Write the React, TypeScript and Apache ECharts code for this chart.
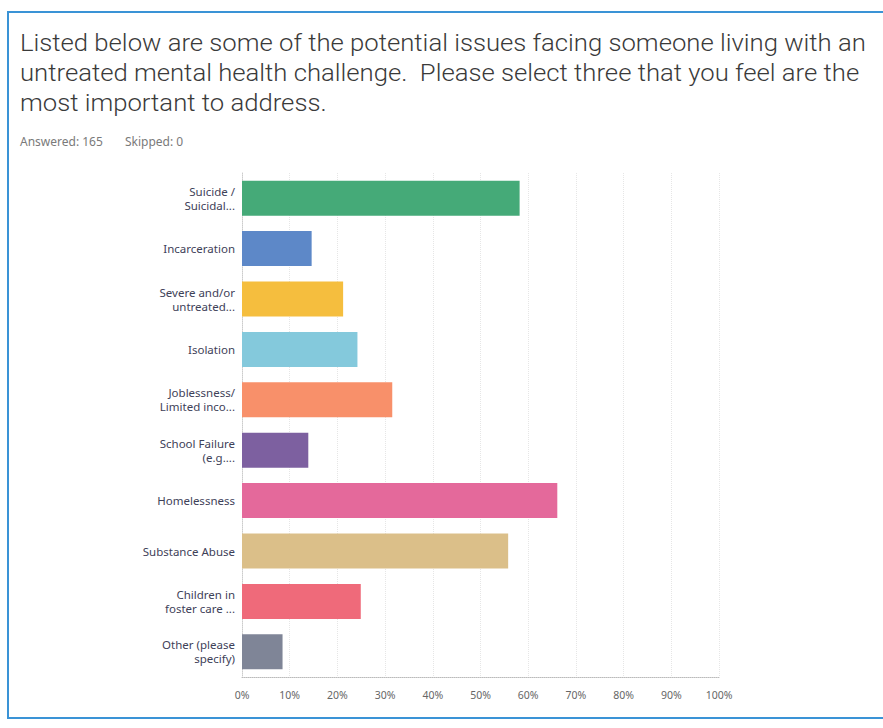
import React, { useEffect, useRef } from "react";
import * as echarts from "echarts";

const categories = [
  "Suicide /\nSuicidal...",
  "Incarceration",
  "Severe and/or\nuntreated...",
  "Isolation",
  "Joblessness/\nLimited inco...",
  "School Failure\n(e.g....",
  "Homelessness",
  "Substance Abuse",
  "Children in\nfoster care ...",
  "Other (please\nspecify)",
];
const values = [58.2, 14.6, 21.2, 24.2, 31.5, 13.9, 66.1, 55.8, 24.9, 8.5];
const colors = [
  "#45aa78",
  "#5d88c8",
  "#f5be3e",
  "#84c9dc",
  "#f8906a",
  "#7d60a0",
  "#e4699b",
  "#dbbf89",
  "#ef6a7a",
  "#7f8597",
];
const tickLabels = ["0%", "10%", "20%", "30%", "40%", "50%", "60%", "70%", "80%", "90%", "100%"];
const titleText =
  "Listed below are some of the potential issues facing someone living with an\nuntreated mental health challenge.  Please select three that you feel are the\nmost important to address.";
const answeredText = "Answered: 165";
const skippedText = "Skipped: 0";

export default function App() {
  const ref = useRef<HTMLDivElement>(null);
  useEffect(() => {
    if (!ref.current) return;
    const chart = echarts.init(ref.current, null, { renderer: "svg" });
    chart.setOption({
      animation: false,
      backgroundColor: "#ffffff",
      graphic: [
        {
          type: "polyline",
          shape: { points: [[883, 12], [8, 12], [8, 718], [883, 718]] },
          style: { fill: "none", stroke: "#3a93d6", lineWidth: 2 },
        },
        {
          type: "text",
          x: 20,
          y: 28,
          scaleX: 1.07,
          style: {
            text: titleText,
            font: "300 24px Roboto, 'Open Sans', sans-serif",
            fill: "#3a3a3a",
            lineHeight: 30,
          },
        },
        {
          type: "text",
          left: 20,
          top: 135,
          style: { text: answeredText, font: "12px 'Noto Sans', sans-serif", fill: "#7a7a7a" },
        },
        {
          type: "text",
          left: 125,
          top: 135,
          style: { text: skippedText, font: "12px 'Noto Sans', sans-serif", fill: "#7a7a7a" },
        },
      ],
      grid: { left: 242, right: 164, top: 173, bottom: 51, containLabel: false },
      xAxis: {
        type: "value",
        min: 0,
        max: 100,
        interval: 10,
        axisLine: { show: true, lineStyle: { color: "#bbbbbb", type: "dotted" } },
        axisTick: { show: false },
        splitLine: { show: true, lineStyle: { color: "#e6e6e6", type: "dotted" } },
        axisLabel: {
          formatter: (v: number) => tickLabels[Math.round(v / 10)],
          color: "#666666",
          fontSize: 10.5,
          fontFamily: "'Noto Sans', sans-serif",
          margin: 12,
        },
      },
      yAxis: {
        type: "category",
        inverse: true,
        data: categories,
        axisLine: { show: true, lineStyle: { color: "#cccccc", type: "dotted" } },
        axisTick: { show: false },
        axisLabel: {
          color: "#3e4158",
          fontSize: 11.5,
          fontFamily: "'Noto Sans', sans-serif",
          lineHeight: 14,
          margin: 7,
          align: "right",
        },
      },
      series: [
        {
          type: "bar",
          barWidth: 35,
          data: values.map((v, i) => ({ value: v, itemStyle: { color: colors[i] } })),
        },
      ],
    });
    return () => chart.dispose();
  }, []);
  return <div ref={ref} style={{ width: 883, height: 728, position: "absolute", left: 0, top: 0 }} />;
}
